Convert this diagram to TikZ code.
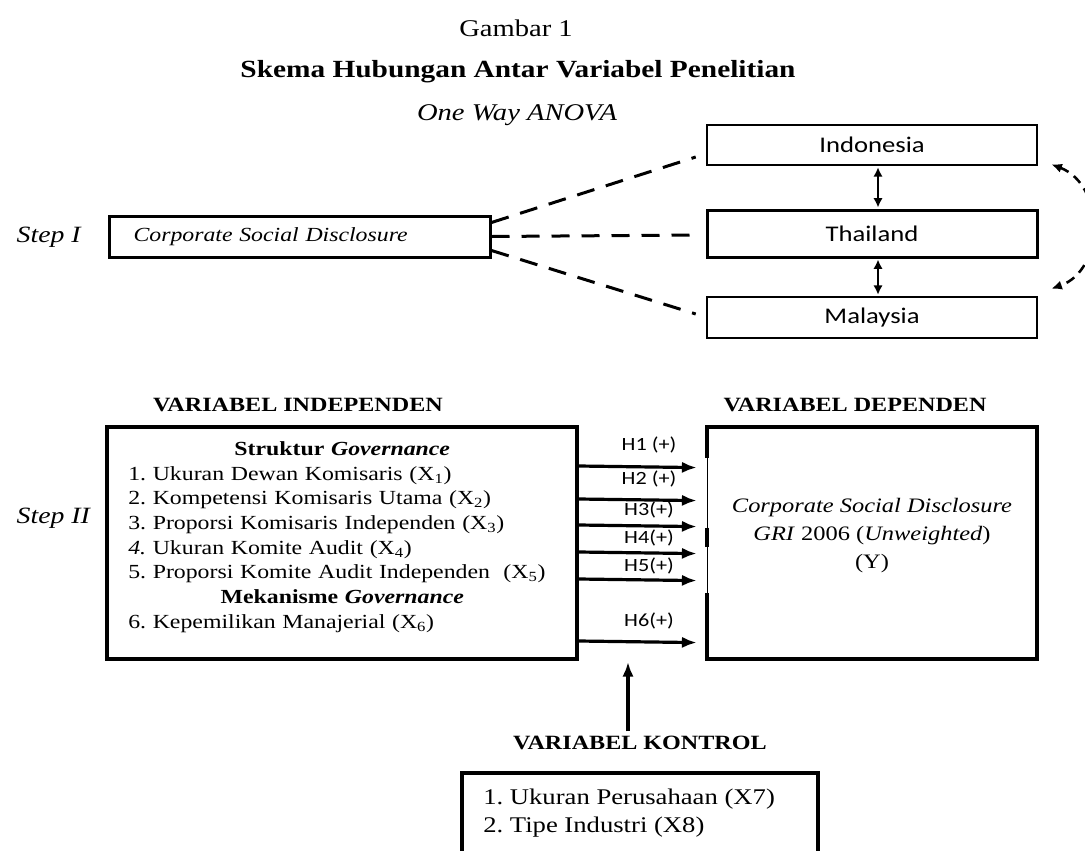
\documentclass[tikz,border=0pt]{standalone}
\usepackage{fontspec}
\setmainfont{Liberation Serif}[FakeStretch=1.19]
\newfontfamily\calibri{Carlito}[FakeStretch=1.19]
\usetikzlibrary{arrows.meta}
\frenchspacing

\begin{document}
\begin{tikzpicture}[x=0.75pt, y=-0.75pt,
        country/.style={draw, line width=1.9pt, minimum width=247.5pt, minimum height=30pt, font=\calibri\fontsize{16.8}{20}\selectfont},
        bigbox/.style={draw, line width=3pt, minimum height=174pt},
        body/.style={font=\fontsize{15}{18.5}\selectfont},
        head/.style={font=\fontsize{15.2}{18}\selectfont\bfseries},
        steplab/.style={anchor=west, font=\fontsize{17.5}{20}\selectfont\itshape},
        dashline/.style={line width=2.25pt, dash pattern=on 13.5pt off 9pt},
        twoway/.style={{Latex[length=7pt,width=7pt]}-{Latex[length=7pt,width=7pt]}, line width=1.9pt},
        hyp/.style={-{Latex[length=11pt,width=8.5pt]}, line width=2.4pt},
        hlab/.style={font=\calibri\fontsize{14}{16}\selectfont}]
        \useasboundingbox (0,0) rectangle (1085,850);
        \clip (0,0) rectangle (1085,850);
        % Judul
        \node[font=\fontsize{18}{21}\selectfont] (gambar) at (516,28) {Gambar 1};
        \node[font=\fontsize{18.5}{22}\selectfont\bfseries] (skema) at (518,72) {Skema Hubungan Antar Variabel Penelitian};
        \node[font=\fontsize{18}{21}\selectfont\itshape] (anova) at (517,115) {One Way ANOVA};
        % Step I
        \node[steplab] (step1) at (12,237) {Step I};
        \node[draw, line width=2.25pt, minimum width=285.75pt, minimum height=30.75pt, inner xsep=18pt, text width=249pt, align=left, font={\fontsize{15}{18.5}\selectfont\itshape}] (csd) at (299.5,236.5) {Corporate Social Disclosure};
        \node[country] (indo) at (872,145) {Indonesia};
        \node[country, line width=2.25pt, minimum height=35.25pt] (thai) at (872,233.5) {Thailand};
        \node[country, minimum height=30.75pt] (mal) at (872,317.5) {Malaysia};
        \draw[dashline] ([shift={(0,-14)}]csd.east) -- ([shift={(-10,12)}]indo.west);
        \draw[dashline] (csd.east) -- ([shift={(-10,1.5)}]thai.west);
        \draw[dashline] ([shift={(0,14)}]csd.east) -- ([shift={(-10,-3.5)}]mal.west);
        \draw[twoway] ([shift={(6,1)}]indo.south) -- ([shift={(6,-1)}]thai.north);
        \draw[twoway] ([shift={(6,1)}]thai.south) -- ([shift={(6,-1)}]mal.north);
        \draw[line width=1.9pt, dash pattern=on 7pt off 5pt, {Latex[length=8pt,width=7pt]}-{Latex[length=8pt,width=7pt]}] ([shift={(13,-2)}]indo.south east) .. controls (1105,185) and (1105,270) .. ([shift={(13,-7)}]mal.north east);
        % Step II
        \node[steplab] (step2) at (12,518) {Step II};
        \node[head] (indhead) at (298,405) {VARIABEL INDEPENDEN};
        \node[head] (dephead) at (855,405) {VARIABEL DEPENDEN};
        \node[bigbox, minimum width=352.5pt] (ind) at (342,543) {};
        \node[body, anchor=west, text width=340pt, align=left, inner sep=0pt] (indlist) at (128,537) {%
            \makebox[321pt]{\textbf{Struktur \textit{Governance}}}\\
            1. Ukuran Dewan Komisaris (X\textsubscript{1})\\
            2. Kompetensi Komisaris Utama (X\textsubscript{2})\\
            3. Proporsi Komisaris Independen (X\textsubscript{3})\\
            \textit{4.} Ukuran Komite Audit (X\textsubscript{4})\\
            5. Proporsi Komite Audit Independen\ \ (X\textsubscript{5})\\
            \makebox[321pt]{\textbf{Mekanisme \textit{Governance}}}\\
            6. Kepemilikan Manajerial (X\textsubscript{6})};
        \node[bigbox, line width=0.6pt, minimum width=247.5pt] (dep) at (872,543) {};
        \draw[line width=3pt] ([shift={(0,31)}]dep.north west) |- (dep.north east) |- (dep.south west) -- ([shift={(0,-66)}]dep.south west);
        \draw[line width=3pt] ([shift={(0,101)}]dep.north west) -- ([shift={(0,120)}]dep.north west);
        \node[align=center, font=\fontsize{15.4}{21}\selectfont] (deptext) at (872,536) {\textit{Corporate Social Disclosure}\\\textit{GRI} 2006 (\textit{Unweighted})\\(Y)};
        % Hipotesis
        \foreach \dy/\ly/\lab [count=\i] in {41/-21/H1 (+), 74/-20/H2 (+), 100/-15/H3(+), 127/-14/H4(+), 154/-13/H5(+), 216/-20/H6(+)} {
            \draw[hyp] ([shift={(0,\dy)}]ind.north east) -- ([shift={(-10,\dy)}]dep.north west);
            \node[hlab] (h\i) at ([shift={(70,{\dy+\ly})}]ind.north east) {\lab};
        }
        % Variabel kontrol
        \node[head] (konhead) at (640,743) {VARIABEL KONTROL};
        \coordinate (ctip) at (628,662);
        \draw[hyp] (konhead.north -| ctip) -- (ctip);
        \node[anchor=north west, align=left, inner sep=0pt, font=\fontsize{16.8}{21}\selectfont] (kontrol) at (483,789) {1. Ukuran Perusahaan (X7)\\2. Tipe Industri (X8)};
        \draw[line width=2.6pt] ([shift={(-21,-16)}]kontrol.north west) rectangle ++(356,120);
\end{tikzpicture}
\end{document}
